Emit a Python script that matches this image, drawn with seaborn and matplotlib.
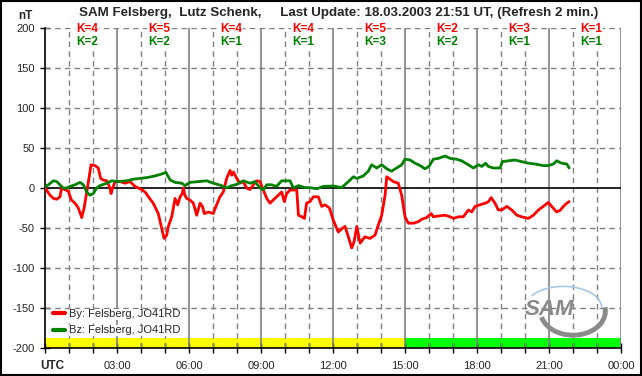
import matplotlib
matplotlib.use("Agg")
import matplotlib.pyplot as plt
from matplotlib.patches import Arc, Rectangle
import pandas as pd
import seaborn as sns

title = "SAM Felsberg,  Lutz Schenk,     Last Update: 18.03.2003 21:51 UT, (Refresh 2 min.)"
by_label = "By: Felsberg, JO41RD"
bz_label = "Bz: Felsberg, JO41RD"

# K indices per 3-hour block
k_by = [4, 5, 4, 4, 5, 2, 3, 1]
k_bz = [2, 2, 1, 1, 3, 2, 1, 1]

by_hours = [0, .21, .35, .49, .625, .69, .83, .97, 1.1, 1.25,
            1.39, 1.53, 1.63, 1.74, 1.85, 1.92, 2.08, 2.22, 2.32, 2.43,
            2.57, 2.71, 2.75, 2.82, 2.92, 3.13, 3.33, 3.54, 3.75, 3.89,
            4.03, 4.17, 4.31, 4.51, 4.72, 4.86, 4.96, 5.07, 5.14, 5.28,
            5.42, 5.53, 5.63, 5.72, 5.76, 5.83, 5.9, 6.04, 6.18, 6.32,
            6.46, 6.56, 6.64, 6.81, 7.01, 7.15, 7.29, 7.43, 7.57, 7.71,
            7.78, 7.85, 7.99, 8.12, 8.26, 8.4, 8.54, 8.68, 8.82, 8.96,
            9.06, 9.24, 9.375, 9.51, 9.72, 9.86, 9.97, 10.07, 10.21, 10.49,
            10.56, 10.7, 10.81, 10.9, 11.04, 11.18, 11.39, 11.53, 11.67, 11.85,
            12.01, 12.22, 12.36, 12.5, 12.64, 12.78, 12.88, 12.99, 13.13, 13.33,
            13.54, 13.75, 13.89, 14.03, 14.17, 14.24, 14.38, 14.51, 14.72, 14.86,
            15.0, 15.14, 15.35, 15.56, 15.7, 15.9, 16.09, 16.18, 16.39, 16.67,
            16.88, 17.02, 17.22, 17.43, 17.64, 17.78, 17.92, 18.13, 18.34, 18.48,
            18.59, 18.75, 18.89, 19.06, 19.24, 19.45, 19.66, 19.86, 20.14, 20.35,
            20.56, 20.76, 20.97, 21.11, 21.32, 21.46, 21.6, 21.74, 21.84]
by_values = [0, -9, -13, -14, -11, 0, -2, -4, -15, -19,
             -25, -37, -25, -5, 16, 29, 28, 25, 12, 10,
             9, 0, -7, 0, 8, 8, 6, 8, 2, 0,
             -2, -5, -11, -19, -32, -50, -63, -59, -48, -36,
             -13, -21, -11, -7, 0, -9, -13, -15, -19, -34,
             -19, -23, -32, -30, -32, -21, -11, -5, 12, 22,
             16, 20, 12, 6, 8, 0, -2, 4, 9, 8,
             0, -13, -19, -15, -9, -5, -17, -7, -2.5, -2.5,
             -34, -36, -38, -19, -17, -11, -11, -23, -21, -25,
             -40, -55, -51, -48, -61, -75, -67, -48, -69, -61,
             -63, -59, -46, -34, -9, 14, 11, 8, 6, -9,
             -36, -44, -44, -42, -39, -37, -32, -36, -35, -34,
             -36, -38, -36, -36, -27.5, -30, -23, -21, -19, -17,
             -12, -19, -27.5, -27, -23, -27.5, -34, -36, -38, -34,
             -27.5, -23, -18, -23, -30, -28, -23, -19, -17]

bz_hours = [0, .14, .35, .49, .625, .76, .9, 1.04, 1.25, 1.46,
            1.6, 1.74, 1.875, 2.01, 2.15, 2.29, 2.57, 2.78, 3.06, 3.4,
            3.68, 3.96, 4.24, 4.58, 4.86, 5.04, 5.12, 5.22, 5.42, 5.7,
            5.83, 6.04, 6.39, 6.74, 7.01, 7.36, 7.57, 7.78, 7.99, 8.26,
            8.54, 8.75, 8.96, 9.1, 9.24, 9.44, 9.65, 9.86, 10.07, 10.21,
            10.35, 10.56, 10.83, 11.04, 11.32, 11.6, 12.01, 12.36, 12.64, 12.85,
            12.99, 13.26, 13.47, 13.61, 13.82, 14.03, 14.24, 14.44, 14.65, 14.86,
            15.0, 15.21, 15.42, 15.63, 15.83, 16.0, 16.18, 16.39, 16.67, 16.88,
            17.15, 17.36, 17.64, 17.85, 18.06, 18.2, 18.36, 18.47, 18.68, 18.96,
            19.06, 19.31, 19.58, 19.86, 20.14, 20.42, 20.76, 20.97, 21.18, 21.32,
            21.53, 21.74, 21.84]
bz_values = [2, 4, 9, 8, 4, 0, 0, 2, 4, 7,
             4, -5, -9, -7, 0, 3, 6, 9, 8, 9,
             11, 12, 13, 15, 17.5, 19.5, 15, 10, 7, 6,
             3, 7, 8, 9, 6, 3, 0, 3, 4.5, 9,
             6, 8, 0, -2, 4, 4, 2, 9, 9, 9,
             0, 3, 0.5, 0.5, -1, 2, 2.5, 0.5, 8, 14,
             12, 15, 21, 29, 25, 29, 24, 21, 25, 29,
             36, 35, 31, 28, 24, 27, 36, 37, 40, 37,
             36, 34, 29, 25, 29, 27, 31, 27, 25, 25,
             33, 34, 35, 33, 31, 30, 28, 28, 30, 34,
             31, 30, 25]

df = pd.concat([
    pd.DataFrame({"hour": by_hours, "nT": by_values, "series": by_label}),
    pd.DataFrame({"hour": bz_hours, "nT": bz_values, "series": bz_label}),
])

sns.set_theme(style="white")
plt.rcParams["font.family"] = ["Liberation Sans", "DejaVu Sans"]

fig = plt.figure(figsize=(6.42, 3.76), dpi=100)
ax = fig.add_axes([45 / 642, 1 - 348 / 376, 576 / 642, 320 / 376])

# quality bar along the bottom
ax.axvspan(0, 15, ymin=0, ymax=12 / 400, color="#ffff00", lw=0, zorder=0)
ax.axvspan(15, 24, ymin=0, ymax=12 / 400, color="#00ff00", lw=0, zorder=0)

# grid: solid every 3 h, dashed every hour, dashed every 50 nT
for h in range(1, 25):
    if h % 3 == 0:
        ax.axvline(h, color="#808080", lw=1.2, zorder=1)
    else:
        ax.axvline(h, color="#808080", lw=1, ls=(0, (4, 3)), zorder=1)
for v in range(-150, 201, 50):
    if v == 0:
        ax.axhline(0, color="black", lw=1.2, zorder=1)
    else:
        ax.axhline(v, color="#808080", lw=1, ls=(0, (4, 3)), zorder=1)

sns.lineplot(data=df, x="hour", y="nT", hue="series", ax=ax,
             palette={by_label: "#ff0000", bz_label: "#008000"},
             lw=2, sort=False, estimator=None, zorder=3)

ax.set_xlim(0, 24)
ax.set_ylim(-200, 200)
ax.set_xticks(range(0, 25))
ax.set_xticklabels(["" if h % 3 or h == 0 else "%02d:00" % (h % 24) for h in range(25)],
                   fontsize=8)
ax.set_yticks(range(-200, 201, 50))
ax.set_yticklabels([str(v) for v in range(-200, 201, 50)], fontsize=8)
ax.tick_params(axis="both", direction="inout", length=7, width=1, color="black",
               bottom=True, left=True, pad=4)
ax.tick_params(axis="x", pad=6)
ax.set_xlabel("")
ax.set_ylabel("")

for side in ["top", "right"]:
    ax.spines[side].set_visible(False)
for side in ["left", "bottom"]:
    ax.spines[side].set_color("black")
    ax.spines[side].set_linewidth(1.2)

# K indices
for i, (kr, kg) in enumerate(zip(k_by, k_bz)):
    ax.text(3 * i + 1.75, 199, "K=%d" % kr, color="#ff0000", fontsize=8.5,
            fontweight="bold", ha="center", va="center", zorder=6,
            bbox=dict(fc="white", ec="none", pad=0.6))
    ax.text(3 * i + 1.75, 182, "K=%d" % kg, color="#008000", fontsize=8.5,
            fontweight="bold", ha="center", va="center", zorder=6,
            bbox=dict(fc="white", ec="none", pad=0.6))

leg = ax.legend(loc="lower left", bbox_to_anchor=(0.0, 0.015), frameon=False,
                fontsize=8, handlelength=1.1, handletextpad=0.4, labelspacing=0.55,
                borderaxespad=0.3)
for line in leg.get_lines():
    line.set_linewidth(3)
for t in leg.get_texts():
    t.set_bbox(dict(fc="white", ec="none", pad=0.3))

# SAM logo
ax.add_patch(Arc((22.0, -154), 2.7, 60, theta1=-100, theta2=75,
                 color="#8a8a8a", lw=3.5, zorder=4))
ax.add_patch(Arc((21.6, -150), 3.2, 54, theta1=20, theta2=95,
                 color="#a8c8e8", lw=1.2, zorder=4))
ax.text(21.0, -152, "SAM", color="#8a8a8a", fontsize=16, fontstyle="italic",
        fontweight="bold", ha="center", va="center", zorder=5)

fig.text(0.528, 1 - 13 / 376, title, ha="center", va="center", fontsize=9.6,
         fontweight="bold")
fig.text(25 / 642, 1 - 16 / 376, "nT", ha="center", va="center", fontsize=8.5,
         fontweight="bold")
fig.text(52 / 642, 1 - 366 / 376, "UTC", ha="center", va="center", fontsize=8.5,
         fontweight="bold")

fig.patches.append(Rectangle((0.001, 0.002), 0.997, 0.996, transform=fig.transFigure,
                             fill=False, ec="black", lw=1.5))

fig.savefig("out.png", dpi=100)
